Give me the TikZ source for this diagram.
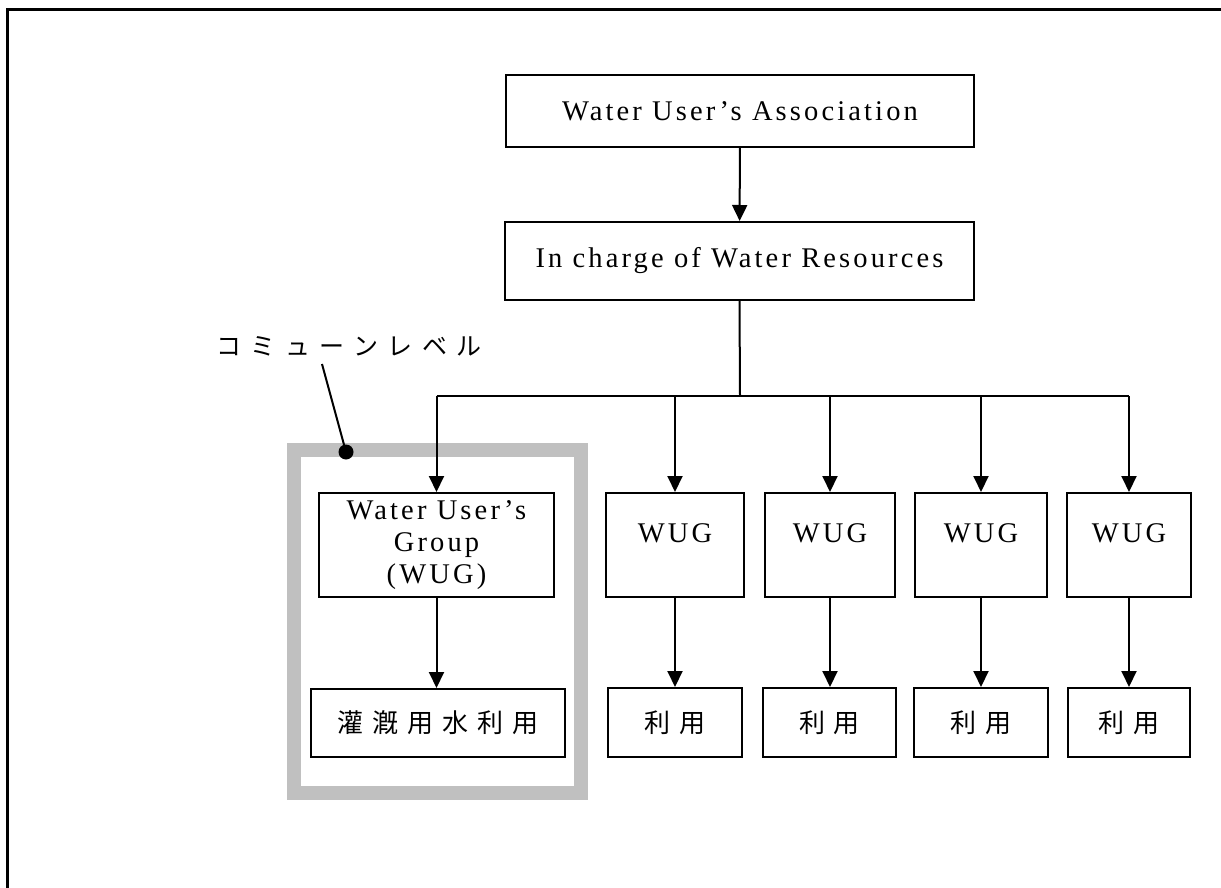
\documentclass[tikz,border=0pt]{standalone}
\usepackage{fontspec}
\usetikzlibrary{arrows.meta}
\setmainfont{Liberation Serif}[LetterSpace=11]
\newfontfamily\jp{Noto Sans CJK JP}[LetterSpace=34]
\newfontfamily\jplbl{Noto Sans CJK JP}[LetterSpace=38]
\definecolor{framegray}{RGB}{192,192,192}
\tikzset{
  box/.style={draw=black, line width=2pt, rectangle, inner sep=0pt, align=center,
    font=\fontsize{28.5pt}{32pt}\selectfont},
  jbox/.style={box, font=\fontsize{26pt}{28pt}\selectfont\jp},
  wugbox/.style={box, minimum height=104pt, text height=18pt, text depth=24pt},
  usebox/.style={jbox, minimum height=69pt},
  arr/.style={line width=2pt, -{Triangle[length=16pt,width=15pt]}},
  conn/.style={line width=2pt}
}
\begin{document}
\begin{tikzpicture}[x=1pt,y=-1pt]
\useasboundingbox (0,0) rectangle (1221,888);
% outer frame (open to the right and bottom)
\draw[line width=2.4pt] (7.5,900) -- (7.5,9.5) -- (1230,9.5);
% gray commune frame
\draw[framegray, line width=14pt] (293.5,449.5) rectangle (580.5,793);
% top boxes
\node[box, minimum width=468pt, minimum height=72pt] (wua) at (740,111) {Water User's Association};
\node[box, minimum width=469pt, minimum height=78pt] (iwr) at (739.5,261) {In charge of Water Resources};
% WUG boxes
\node[box, minimum width=235pt, minimum height=104pt] (g0) at (436.5,545) {Water User's\\Group\\(WUG)};
\node[wugbox, minimum width=138pt] (g1) at (675,545) {WUG};
\node[wugbox, minimum width=130pt] (g2) at (830,545) {WUG};
\node[wugbox, minimum width=132pt] (g3) at (981,545) {WUG};
\node[wugbox, minimum width=124pt] (g4) at (1129,545) {WUG};
% use boxes
\node[usebox, minimum width=254pt, minimum height=68pt] (u0) at (438,723) {灌漑用水利用};
\node[usebox, minimum width=134pt] (u1) at (675,722.5) {利用};
\node[usebox, minimum width=133pt] (u2) at (829.5,722.5) {利用};
\node[usebox, minimum width=134pt] (u3) at (981,722.5) {利用};
\node[usebox, minimum width=122pt] (u4) at (1129,722.5) {利用};
% bus
\coordinate (bus) at (740,396);
\coordinate (bl) at (g0.north |- bus);
\coordinate (br) at (g4.north |- bus);
\draw[arr] (wua) -- (iwr);
\draw[conn] (iwr.south) -- (bus);
\draw[conn] (bl) -- (br);
\draw[arr] (bl) -- (g0.north);
\draw[arr] (g1.north |- bus) -- (g1.north);
\draw[arr] (g2.north |- bus) -- (g2.north);
\draw[arr] (g3.north |- bus) -- (g3.north);
\draw[arr] (br) -- (g4.north);
% down arrows
\draw[arr] (g0.south) -- (g0.south |- u0.north);
\draw[arr] (g1.south) -- (g1.south |- u1.north);
\draw[arr] (g2.south) -- (g2.south |- u2.north);
\draw[arr] (g3.south) -- (g3.south |- u3.north);
\draw[arr] (g4.south) -- (g4.south |- u4.north);
% commune label
\node[font=\fontsize{25pt}{28pt}\selectfont\jplbl, inner sep=0pt] (lbl) at (349,346) {コミューンレベル};
\coordinate (lblend) at (322,364);
\node[circle, fill=black, inner sep=0pt, minimum size=15pt] (dot) at (346,452) {};
\draw[line width=2pt] (lblend) -- (dot.center);
\end{tikzpicture}
\end{document}
